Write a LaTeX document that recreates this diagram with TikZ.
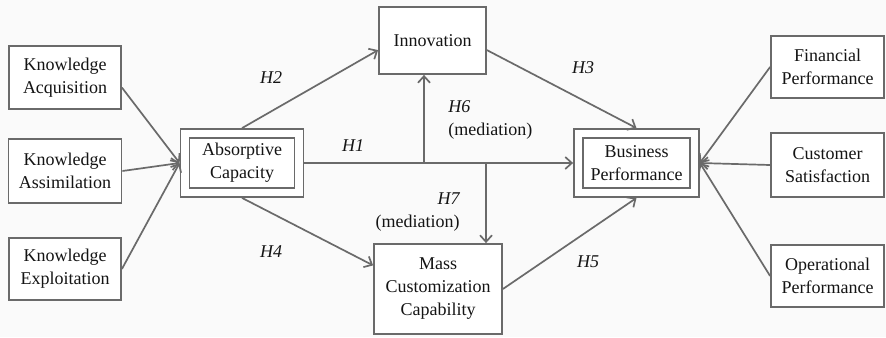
\documentclass[tikz,border=0pt]{standalone}
\usepackage{fontspec}
\setmainfont{Liberation Serif}
\usetikzlibrary{arrows.meta}
\definecolor{linegray}{HTML}{6A6A6A}
\definecolor{bggray}{HTML}{FAFAFA}

\begin{document}
\begin{tikzpicture}[x=0.5pt, y=-0.5pt,
        box/.style={draw=linegray, line width=0.9pt, fill=white, align=center, inner sep=0pt,
            text=black!92, font=\fontsize{9}{11.5}\selectfont},
        dbox/.style={box, double=white, double distance=3.6pt, outer sep=2.7pt},
        hyp/.style={inner sep=1pt, text=black!92, font=\fontsize{9}{11.5}\selectfont\itshape},
        link/.style={draw=linegray, line width=0.85pt, -{Straight Barb[length=3.3pt,width=6pt]}}]
        \useasboundingbox (0,0) rectangle (886,337);
        \fill[bggray] (0,0) rectangle (886,337);

        % measures of the model
        \node[box, minimum width=56pt, minimum height=31.5pt] (acq) at (65,77.5) {Knowledge\\Acquisition};
        \node[box, minimum width=56.5pt, minimum height=32pt] (ass) at (65,171) {Knowledge\\Assimilation};
        \node[box, minimum width=56pt, minimum height=31pt] (exp) at (65,269) {Knowledge\\Exploitation};
        \node[box, minimum width=56.5pt, minimum height=31pt] (fin) at (827.5,67) {Financial\\Performance};
        \node[box, minimum width=56.5pt, minimum height=32pt] (cus) at (827.5,165) {Customer\\Satisfaction};
        \node[box, minimum width=56.5pt, minimum height=31pt] (ope) at (827.5,276) {Operational\\Performance};

        % constructs
        \node[dbox, minimum width=57pt, minimum height=29.5pt] (abs) at (242,163) {Absorptive\\Capacity};
        \node[dbox, minimum width=58pt, minimum height=29.5pt] (bp) at (636.5,163) {Business\\Performance};
        \node[box, minimum width=53.5pt, minimum height=33.5pt] (inno) at (432.5,40.5) {Innovation};
        \node[box, minimum width=64pt, minimum height=45pt] (mcc) at (438,289) {Mass\\Customization\\Capability};

        \coordinate (j1) at (424,163);
        \coordinate (j2) at (486,163);

        \node[hyp] (h1) at (353,146) {H1};
        \node[hyp] (h2) at (271,78) {H2};
        \node[hyp] (h3) at (583,68) {H3};
        \node[hyp] (h4) at (271,252) {H4};
        \node[hyp] (h5) at (588,262) {H5};
        \node[hyp, anchor=west, align=left] (h6) at (446,120) {H6\\\upshape(mediation)};
        \node[hyp, anchor=east, align=right] (h7) at (462,212) {H7\\\upshape(mediation)};

        \draw[link] (acq.-10) -- (abs.west);
        \draw[link] (ass.east) -- (abs.west);
        \draw[link] (exp.east) -- (abs.west);
        \draw[link] (abs.north) -- (inno.190);
        \draw[link] (abs.south) -- (mcc.160);
        \draw[link] (abs.east) -- (bp.west);
        \draw[link] (j1) -- (j1 |- inno.south);
        \draw[link] (j2) -- (j2 |- mcc.north);
        \draw[link] (inno.-10) -- (bp.north);
        \draw[link] (mcc.east) -- (bp.south);
        \draw[link] (fin.west) -- (bp.east);
        \draw[link] (cus.west) -- (bp.east);
        \draw[link] (ope.west) -- (bp.east);
    \end{tikzpicture}
\end{document}
